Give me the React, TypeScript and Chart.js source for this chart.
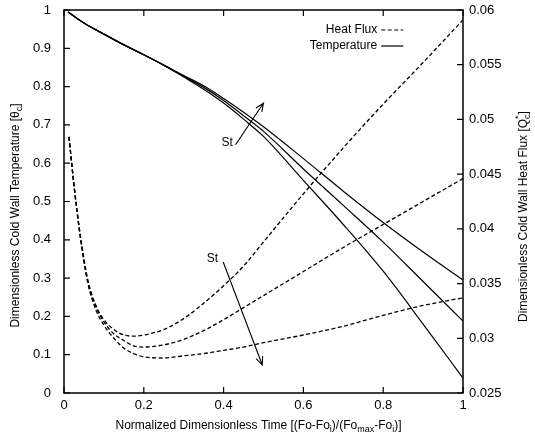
import React, { useEffect, useRef } from "react";
import { Chart, registerables } from "chart.js";

Chart.register(...registerables);

// ---- data ----
const tempTime = [0.01, 0.05, 0.1, 0.15, 0.2, 0.25, 0.3, 0.35, 0.4, 0.45, 0.5, 0.6, 0.7, 0.8, 0.9, 1.0];
const tempHigh = [0.995, 0.966, 0.937, 0.909, 0.883, 0.856, 0.829, 0.802, 0.769, 0.733, 0.695, 0.612, 0.527, 0.445, 0.368, 0.295];
const tempMid = [0.995, 0.966, 0.937, 0.909, 0.883, 0.856, 0.827, 0.798, 0.764, 0.724, 0.683, 0.585, 0.49, 0.394, 0.291, 0.188];
const tempLow = [0.995, 0.966, 0.937, 0.909, 0.883, 0.856, 0.825, 0.793, 0.757, 0.715, 0.67, 0.555, 0.44, 0.318, 0.18, 0.039];

const fluxTime = [0.0125, 0.025, 0.04, 0.06, 0.08, 0.1, 0.125, 0.15, 0.175, 0.2, 0.25, 0.3, 0.35, 0.4, 0.45, 0.5, 0.6, 0.7, 0.8, 0.9, 1.0];
const fluxHigh = [0.0484, 0.044, 0.0396, 0.0353, 0.033, 0.0317, 0.0308, 0.0303, 0.0302, 0.0303, 0.0308, 0.0318, 0.0332, 0.0348, 0.0366, 0.0388, 0.0432, 0.0474, 0.0514, 0.0552, 0.0591];
const fluxMid = [0.0484, 0.044, 0.0396, 0.0351, 0.0329, 0.0315, 0.0304, 0.0298, 0.0293, 0.0292, 0.0294, 0.0299, 0.0307, 0.0317, 0.0328, 0.0339, 0.0361, 0.0383, 0.0404, 0.0425, 0.0446];
const fluxLow = [0.0484, 0.044, 0.0395, 0.035, 0.0326, 0.0312, 0.03, 0.0291, 0.0286, 0.0283, 0.0282, 0.0284, 0.0286, 0.0289, 0.0292, 0.0296, 0.0303, 0.0311, 0.0321, 0.033, 0.0337];

const xRange = [0, 1];
const yRange = [0, 1];
const y2Range = [0.025, 0.06];
const xStep = 0.2;
const yStep = 0.1;
const y2Step = 0.005;

const legendLabels = ["Heat Flux", "Temperature"];
const annotationLabel = "St";

const FONT = "'Liberation Sans', Arial, Helvetica, sans-serif";

type Seg = { t: string; k?: "sub" | "sup" | "subsup" };
const xTitle: Seg[] = [
  { t: "Normalized Dimensionless Time [(Fo-Fo" },
  { t: "i", k: "sub" },
  { t: ")/(Fo" },
  { t: "max", k: "sub" },
  { t: "-Fo" },
  { t: "i", k: "sub" },
  { t: ")]" },
];
const yTitle: Seg[] = [
  { t: "Dimensionless Cold Wall Temperature [\u03b8" },
  { t: "c", k: "sub" },
  { t: "]" },
];
const y2Title: Seg[] = [
  { t: "Dimensionless Cold Wall Heat Flux [Q" },
  { t: "c", k: "subsup" },
  { t: "]" },
];

const fmt = (v: number) => String(parseFloat(Number(v).toFixed(4)));
const pts = (xs: number[], ys: number[]) => xs.map((x, i) => ({ x, y: ys[i] }));

function measureRich(ctx: CanvasRenderingContext2D, segs: Seg[], size: number) {
  let w = 0;
  for (const s of segs) {
    ctx.font = `${s.k ? size - 3 : size}px ${FONT}`;
    w += ctx.measureText(s.t).width;
  }
  return w;
}

function drawRich(ctx: CanvasRenderingContext2D, segs: Seg[], cx: number, cy: number, rot: number, size: number) {
  ctx.save();
  ctx.translate(cx, cy);
  ctx.rotate(rot);
  ctx.fillStyle = "#000";
  ctx.textBaseline = "middle";
  ctx.textAlign = "left";
  const total = measureRich(ctx, segs, size);
  let x = -total / 2;
  for (const s of segs) {
    if (!s.k) {
      ctx.font = `${size}px ${FONT}`;
      ctx.fillText(s.t, x, 0);
      x += ctx.measureText(s.t).width;
    } else {
      ctx.font = `${size - 3}px ${FONT}`;
      if (s.k === "subsup") {
        ctx.fillText("*", x, -5);
      }
      ctx.fillText(s.t, x, s.k === "sup" ? -5 : 4);
      x += ctx.measureText(s.t).width;
    }
  }
  ctx.restore();
}

function arrow(ctx: CanvasRenderingContext2D, x1: number, y1: number, x2: number, y2: number) {
  ctx.beginPath();
  ctx.moveTo(x1, y1);
  ctx.lineTo(x2, y2);
  const a = Math.atan2(y2 - y1, x2 - x1);
  const L = 9;
  const s = 0.4;
  ctx.moveTo(x2 - L * Math.cos(a - s), y2 - L * Math.sin(a - s));
  ctx.lineTo(x2, y2);
  ctx.lineTo(x2 - L * Math.cos(a + s), y2 - L * Math.sin(a + s));
  ctx.stroke();
}

const framePlugin = {
  id: "frame",
  afterDraw(chart: any) {
    const { ctx, chartArea: ca, scales } = chart;
    const { x, y, y2 } = scales;
    ctx.save();
    ctx.strokeStyle = "#000";
    ctx.lineWidth = 1.5;
    ctx.setLineDash([]);
    ctx.strokeRect(ca.left, ca.top, ca.right - ca.left, ca.bottom - ca.top);
    const tl = 6;
    ctx.lineWidth = 1.2;
    ctx.beginPath();
    for (const t of x.ticks) {
      const px = x.getPixelForValue(t.value);
      ctx.moveTo(px, ca.bottom);
      ctx.lineTo(px, ca.bottom - tl);
      ctx.moveTo(px, ca.top);
      ctx.lineTo(px, ca.top + tl);
    }
    for (const t of y.ticks) {
      const py = y.getPixelForValue(t.value);
      ctx.moveTo(ca.left, py);
      ctx.lineTo(ca.left + tl, py);
    }
    for (const t of y2.ticks) {
      const py = y2.getPixelForValue(t.value);
      ctx.moveTo(ca.right, py);
      ctx.lineTo(ca.right - tl, py);
    }
    ctx.stroke();

    // axis titles
    const midX = (ca.left + ca.right) / 2 - 5;
    drawRich(ctx, xTitle, midX, ca.bottom + 33, 0, 12);
    drawRich(ctx, yTitle, 16, (ca.top + ca.bottom) / 2 + 14, -Math.PI / 2, 12);
    drawRich(ctx, y2Title, 524, (ca.top + ca.bottom) / 2 + 15, -Math.PI / 2, 12);

    // legend
    ctx.font = `12px ${FONT}`;
    ctx.textAlign = "right";
    ctx.textBaseline = "middle";
    ctx.fillStyle = "#000";
    const lx = x.getPixelForValue(0.785);
    const rows = [ca.top + 20, ca.top + 36];
    legendLabels.forEach((lab, i) => {
      ctx.fillText(lab, lx, rows[i]);
      ctx.beginPath();
      ctx.lineWidth = 1.2;
      ctx.setLineDash(i === 0 ? [4, 2.5] : []);
      ctx.moveTo(lx + 4, rows[i]);
      ctx.lineTo(lx + 26, rows[i]);
      ctx.stroke();
    });
    ctx.setLineDash([]);

    // St annotations
    ctx.lineWidth = 1.1;
    ctx.textAlign = "center";
    ctx.font = `12px ${FONT}`;
    ctx.fillText(annotationLabel, x.getPixelForValue(0.409), y.getPixelForValue(0.653));
    arrow(ctx, x.getPixelForValue(0.43), y.getPixelForValue(0.648), x.getPixelForValue(0.5), y.getPixelForValue(0.757));
    ctx.fillText(annotationLabel, x.getPixelForValue(0.372), y.getPixelForValue(0.35));
    arrow(ctx, x.getPixelForValue(0.399), y.getPixelForValue(0.342), x.getPixelForValue(0.497), y.getPixelForValue(0.073));
    ctx.restore();
  },
};

const zeroPad = (s: any) => {
  s.paddingTop = 0;
  s.paddingBottom = 0;
  s.paddingLeft = 0;
  s.paddingRight = 0;
};

export default function App() {
  const ref = useRef<HTMLCanvasElement>(null);
  useEffect(() => {
    const solid = { borderColor: "#000", borderWidth: 1.2, pointRadius: 0, fill: false, cubicInterpolationMode: "monotone" as const };
    const dashed = { ...solid, borderDash: [4, 2.5], borderWidth: 1.3 };
    const tickFont = { family: FONT, size: 13 };
    const chart = new Chart(ref.current!, {
      type: "line",
      data: {
        datasets: [
          { ...solid, label: "T1", data: pts(tempTime, tempHigh), yAxisID: "y" },
          { ...solid, label: "T2", data: pts(tempTime, tempMid), yAxisID: "y" },
          { ...solid, label: "T3", data: pts(tempTime, tempLow), yAxisID: "y" },
          { ...dashed, label: "Q1", data: pts(fluxTime, fluxHigh), yAxisID: "y2" },
          { ...dashed, label: "Q2", data: pts(fluxTime, fluxMid), yAxisID: "y2" },
          { ...dashed, label: "Q3", data: pts(fluxTime, fluxLow), yAxisID: "y2" },
        ],
      },
      options: {
        responsive: false,
        animation: false,
        devicePixelRatio: 1,
        layout: { padding: { top: 10, left: 0, right: 0, bottom: 0 } },
        plugins: { legend: { display: false }, tooltip: { enabled: false } },
        scales: {
          x: {
            type: "linear",
            min: xRange[0],
            max: xRange[1],
            ticks: { stepSize: xStep, callback: (v: any) => fmt(v), color: "#000", font: tickFont, padding: 5, maxRotation: 0, autoSkip: false },
            grid: { display: false, drawTicks: false },
            border: { display: false },
            afterFit: (s: any) => { s.height = 45; zeroPad(s); },
          },
          y: {
            type: "linear",
            position: "left",
            min: yRange[0],
            max: yRange[1],
            ticks: { stepSize: yStep, callback: (v: any) => fmt(v), color: "#000", font: tickFont, padding: 13 },
            grid: { display: false, drawTicks: false },
            border: { display: false },
            afterFit: (s: any) => { s.width = 64; zeroPad(s); },
          },
          y2: {
            type: "linear",
            position: "right",
            min: y2Range[0],
            max: y2Range[1],
            ticks: { stepSize: y2Step, callback: (v: any) => fmt(v), color: "#000", font: tickFont, padding: 6 },
            grid: { display: false, drawTicks: false },
            border: { display: false },
            afterFit: (s: any) => { s.width = 72; zeroPad(s); },
          },
        },
      },
      plugins: [framePlugin],
    });
    return () => chart.destroy();
  }, []);
  return (
    <div style={{ position: "absolute", left: 0, top: 0, width: 535, height: 438, background: "#fff" }}>
      <canvas ref={ref} width={535} height={438} style={{ display: "block" }} />
    </div>
  );
}
